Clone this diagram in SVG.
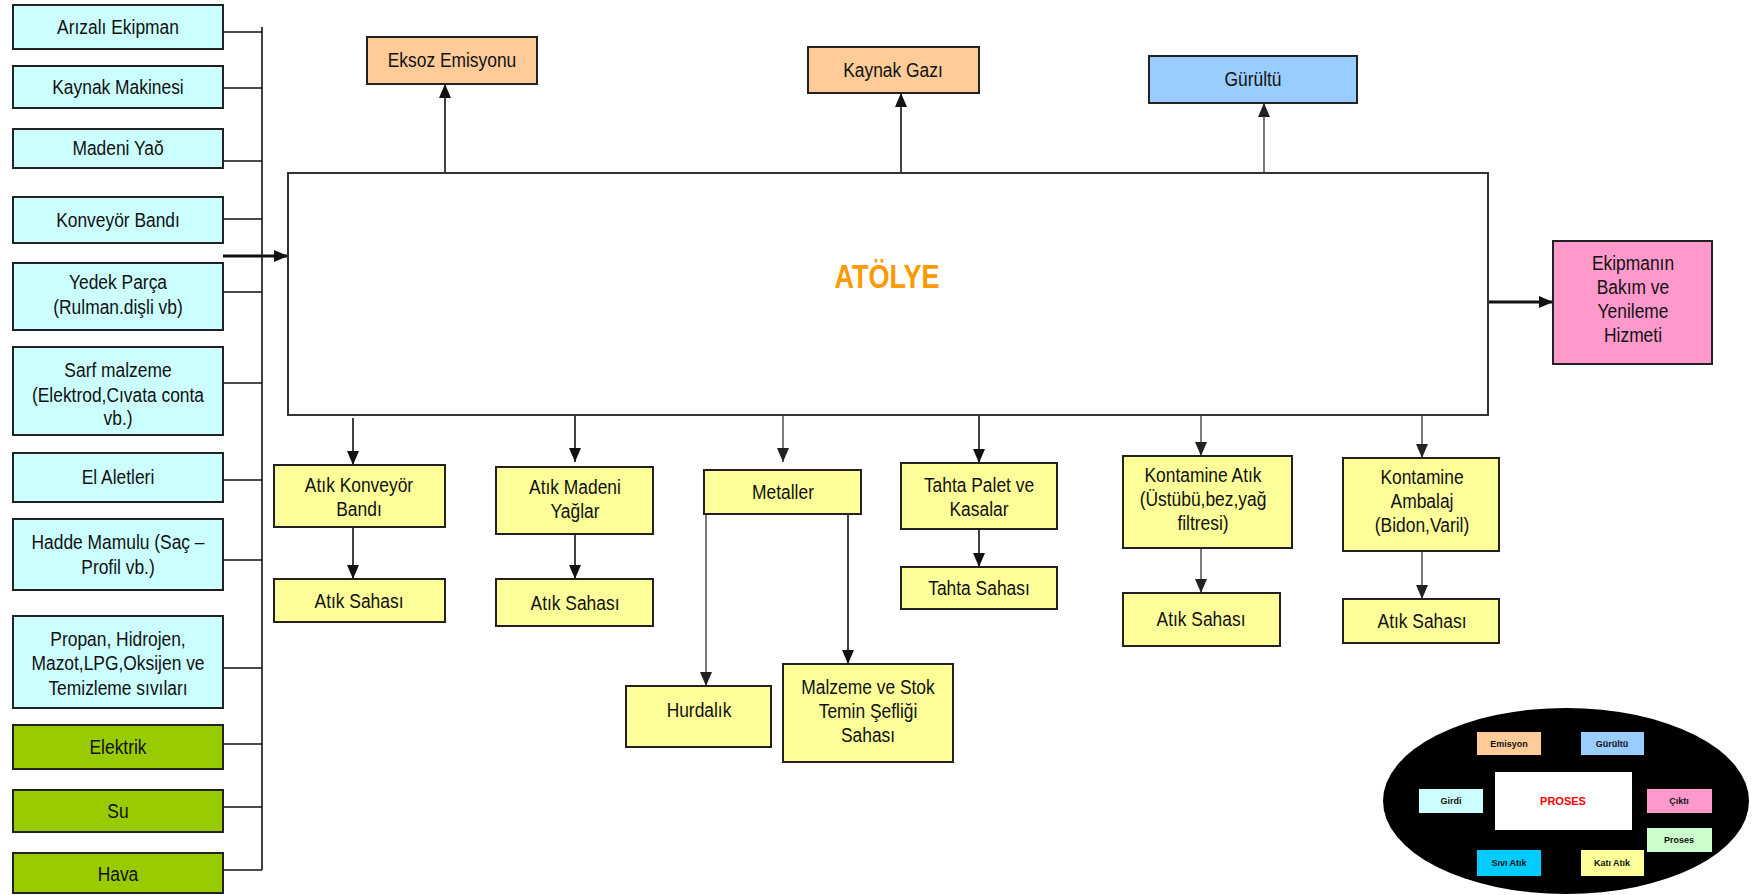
<svg xmlns="http://www.w3.org/2000/svg" width="1753" height="895" viewBox="0 0 1753 895">
<defs>
<marker id="ah" viewBox="0 0 14 12" refX="14" refY="6" markerWidth="14" markerHeight="12" markerUnits="userSpaceOnUse" orient="auto"><path d="M0,0 L14,6 L0,12 Z" fill="#111"/></marker>
<marker id="ahg" viewBox="0 0 14 12" refX="14" refY="6" markerWidth="14" markerHeight="12" markerUnits="userSpaceOnUse" orient="auto"><path d="M0,0 L14,6 L0,12 Z" fill="#222"/></marker>
</defs>
<style>
text{font-family:'Liberation Sans',Arial,sans-serif;font-size:20px;fill:#111;text-anchor:middle}
.b{stroke:#222;stroke-width:2}
.cy{fill:#CCFFFF}.gr{fill:#99CC00}.or{fill:#FFCC99}.bl{fill:#99CCFF}.pk{fill:#FF99CC}.ye{fill:#FFFF99}
.c{fill:none;stroke:#111;stroke-width:1.6}
.cg{fill:none;stroke:#444;stroke-width:1.4}
.lg text{font-size:9px;font-weight:bold}
</style>
<rect width="1753" height="895" fill="#fff"/>
<g id="connectors">
<path class="c" d="M262,27 V870"/>
<path class="c" d="M223,32 H262 M223,88 H262 M223,161 H262 M223,219 H262 M223,292 H262 M223,383 H262 M223,480 H262 M223,560 H262 M223,668 H262 M223,744 H262 M223,807 H262 M223,870 H262"/>
<path d="M223,256 H288" fill="none" stroke="#111" stroke-width="3.2" marker-end="url(#ah)"/>
<path class="c" d="M445,173 V84" marker-end="url(#ah)"/>
<path class="c" d="M901,173 V93" marker-end="url(#ah)"/>
<path class="cg" d="M1264,176 V103" marker-end="url(#ahg)"/>
<path d="M1488,302 H1553" fill="none" stroke="#111" stroke-width="3.2" marker-end="url(#ah)"/>
<path class="c" d="M353,418 V465" marker-end="url(#ah)"/>
<path class="c" d="M353,527 V579" marker-end="url(#ah)"/>
<path class="c" d="M575,412 V462" marker-end="url(#ah)"/>
<path class="c" d="M575,527 V579" marker-end="url(#ah)"/>
<path class="cg" d="M783,415 V462" marker-end="url(#ahg)"/>
<path class="cg" d="M706,514 V686" marker-end="url(#ahg)"/>
<path class="c" d="M848,509 V664" marker-end="url(#ah)"/>
<path class="c" d="M979,415 V463" marker-end="url(#ah)"/>
<path class="c" d="M979,522 V567" marker-end="url(#ah)"/>
<path class="cg" d="M1201,415 V456" marker-end="url(#ahg)"/>
<path class="cg" d="M1201,548 V593" marker-end="url(#ahg)"/>
<path class="cg" d="M1422,415 V458" marker-end="url(#ahg)"/>
<path class="cg" d="M1422,551 V599" marker-end="url(#ahg)"/>
</g>
<g id="atolye"><rect x="288" y="173" width="1200" height="242" fill="#fff" stroke="#333" stroke-width="2"/><text transform="matrix(.82 0 0 1 887 288)" style="font-size:33px;font-weight:bold;fill:#FF9900">ATÖLYE</text></g>
<g id="in1"><rect class="b cy" x="13" y="5" width="210" height="44"/><text transform="matrix(.87 0 0 1 118 34)">Arızalı Ekipman</text></g>
<g id="in2"><rect class="b cy" x="13" y="66" width="210" height="42"/><text transform="matrix(.87 0 0 1 118 94)">Kaynak Makinesi</text></g>
<g id="in3"><rect class="b cy" x="13" y="129" width="210" height="39"/><text transform="matrix(.87 0 0 1 118 155)">Madeni Yaŏ</text></g>
<g id="in4"><rect class="b cy" x="13" y="197" width="210" height="46"/><text transform="matrix(.87 0 0 1 118 227)">Konveyör Bandı</text></g>
<g id="in5"><rect class="b cy" x="13" y="263" width="210" height="67"/><text transform="matrix(.87 0 0 1 118 289)">Yedek Parça</text><text transform="matrix(.87 0 0 1 118 314)">(Rulman.dişli vb)</text></g>
<g id="in6"><rect class="b cy" x="13" y="347" width="210" height="88"/><text transform="matrix(.87 0 0 1 118 377)">Sarf malzeme</text><text transform="matrix(.87 0 0 1 118 402)">(Elektrod,Cıvata conta</text><text transform="matrix(.87 0 0 1 118 425)">vb.)</text></g>
<g id="in7"><rect class="b cy" x="13" y="453" width="210" height="49"/><text transform="matrix(.87 0 0 1 118 484)">El Aletleri</text></g>
<g id="in8"><rect class="b cy" x="13" y="519" width="210" height="71"/><text transform="matrix(.87 0 0 1 118 549)">Hadde Mamulu (Saç –</text><text transform="matrix(.87 0 0 1 118 574)">Profil  vb.)</text></g>
<g id="in9"><rect class="b cy" x="13" y="616" width="210" height="92"/><text transform="matrix(.87 0 0 1 118 646)">Propan, Hidrojen,</text><text transform="matrix(.87 0 0 1 118 670)">Mazot,LPG,Oksijen ve</text><text transform="matrix(.87 0 0 1 118 695)">Temizleme sıvıları</text></g>
<g id="in10"><rect class="b gr" x="13" y="725" width="210" height="44"/><text transform="matrix(.87 0 0 1 118 754)">Elektrik</text></g>
<g id="in11"><rect class="b gr" x="13" y="790" width="210" height="42"/><text transform="matrix(.87 0 0 1 118 818)">Su</text></g>
<g id="in12"><rect class="b gr" x="13" y="853" width="210" height="40"/><text transform="matrix(.87 0 0 1 118 881)">Hava</text></g>
<g id="eksoz"><rect class="b or" x="367" y="37" width="170" height="47"/><text transform="matrix(.87 0 0 1 452 67)">Eksoz Emisyonu</text></g>
<g id="kaynakgazi"><rect class="b or" x="808" y="47" width="171" height="46"/><text transform="matrix(.87 0 0 1 893 77)">Kaynak Gazı</text></g>
<g id="gurultu"><rect class="b bl" x="1149" y="56" width="208" height="47"/><text transform="matrix(.87 0 0 1 1253 86)">Gürültü</text></g>
<g id="ekipman"><rect class="b pk" x="1553" y="241" width="159" height="123"/><text transform="matrix(.87 0 0 1 1633 270)">Ekipmanın</text><text transform="matrix(.87 0 0 1 1633 294)">Bakım ve</text><text transform="matrix(.87 0 0 1 1633 318)">Yenileme</text><text transform="matrix(.87 0 0 1 1633 342)">Hizmeti</text></g>
<g id="o1"><rect class="b ye" x="274" y="465" width="171" height="62"/><text transform="matrix(.87 0 0 1 359 492)">Atık Konveyör</text><text transform="matrix(.87 0 0 1 359 516)">Bandı</text></g>
<g id="o1s"><rect class="b ye" x="274" y="579" width="171" height="43"/><text transform="matrix(.87 0 0 1 359 608)">Atık Sahası</text></g>
<g id="o2"><rect class="b ye" x="496" y="467" width="157" height="67"/><text transform="matrix(.87 0 0 1 575 494)">Atık Madeni</text><text transform="matrix(.87 0 0 1 575 518)">Yağlar</text></g>
<g id="o2s"><rect class="b ye" x="496" y="579" width="157" height="47"/><text transform="matrix(.87 0 0 1 575 610)">Atık Sahası</text></g>
<g id="o3"><rect class="b ye" x="704" y="470" width="157" height="44"/><text transform="matrix(.87 0 0 1 783 499)">Metaller</text></g>
<g id="o3a"><rect class="b ye" x="626" y="686" width="145" height="61"/><text transform="matrix(.87 0 0 1 699 717)">Hurdalık</text></g>
<g id="o3b"><rect class="b ye" x="783" y="664" width="170" height="98"/><text transform="matrix(.87 0 0 1 868 694)">Malzeme ve Stok</text><text transform="matrix(.87 0 0 1 868 718)">Temin Şefliği</text><text transform="matrix(.87 0 0 1 868 742)">Sahası</text></g>
<g id="o4"><rect class="b ye" x="901" y="463" width="156" height="66"/><text transform="matrix(.87 0 0 1 979 492)">Tahta Palet ve</text><text transform="matrix(.87 0 0 1 979 516)">Kasalar</text></g>
<g id="o4s"><rect class="b ye" x="901" y="567" width="156" height="42"/><text transform="matrix(.87 0 0 1 979 595)">Tahta Sahası</text></g>
<g id="o5"><rect class="b ye" x="1123" y="456" width="169" height="92"/><text transform="matrix(.87 0 0 1 1203 482)">Kontamine Atık</text><text transform="matrix(.87 0 0 1 1203 506)">(Üstübü,bez,yağ</text><text transform="matrix(.87 0 0 1 1203 530)">filtresi)</text></g>
<g id="o5s"><rect class="b ye" x="1123" y="593" width="157" height="53"/><text transform="matrix(.87 0 0 1 1201 626)">Atık Sahası</text></g>
<g id="o6"><rect class="b ye" x="1343" y="458" width="156" height="93"/><text transform="matrix(.87 0 0 1 1422 484)">Kontamine</text><text transform="matrix(.87 0 0 1 1422 508)">Ambalaj</text><text transform="matrix(.87 0 0 1 1422 532)">(Bidon,Varil)</text></g>
<g id="o6s"><rect class="b ye" x="1343" y="599" width="156" height="44"/><text transform="matrix(.87 0 0 1 1422 628)">Atık Sahası</text></g>
<g id="legend" class="lg">
<ellipse cx="1566" cy="801" rx="183" ry="93" fill="#000"/>
<rect x="1477" y="732" width="64" height="23" fill="#FFCC99"/><text x="1509" y="747">Emisyon</text>
<rect x="1581" y="732" width="63" height="23" fill="#99CCFF"/><text x="1612" y="747">Gürültü</text>
<rect x="1495" y="772" width="137" height="58" fill="#fff"/><text x="1563" y="805" style="font-size:11px;fill:#FF0000">PROSES</text>
<rect x="1419" y="789" width="64" height="24" fill="#CCFFFF"/><text x="1451" y="804">Girdi</text>
<rect x="1647" y="789" width="65" height="24" fill="#FF99CC"/><text x="1679" y="804">Çıktı</text>
<rect x="1647" y="828" width="65" height="24" fill="#CCFFCC"/><text x="1679" y="843">Proses</text>
<rect x="1477" y="850" width="64" height="26" fill="#00CCFF"/><text x="1509" y="866">Sıvı Atık</text>
<rect x="1581" y="850" width="63" height="26" fill="#FFFF99"/><text x="1612" y="866">Katı Atık</text>
</g>
</svg>
